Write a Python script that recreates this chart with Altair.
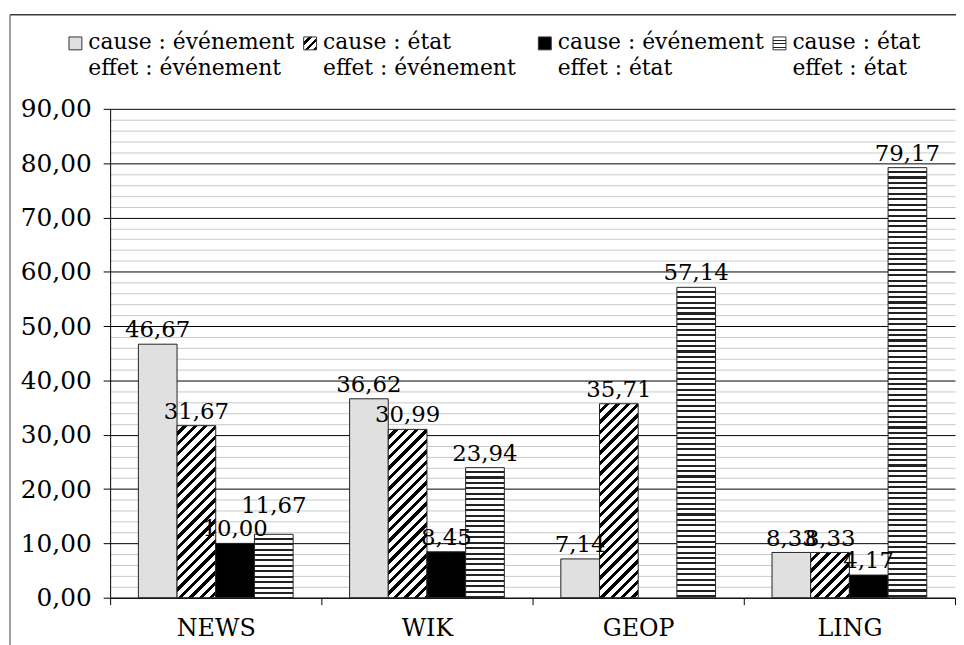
import math
import altair as alt
import pandas as pd

# ---------------- data ----------------
categories = ["NEWS", "WIK", "GEOP", "LING"]
series_labels = [
    "cause : événement\neffet : événement",
    "cause : état\neffet : événement",
    "cause : événement\neffet : état",
    "cause : état\neffet : état",
]
values_ev_ev = [46.67, 36.62, 7.14, 8.33]
values_et_ev = [31.67, 30.99, 35.71, 8.33]
values_ev_et = [10.00, 8.45, None, 4.17]
values_et_et = [11.67, 23.94, 57.14, 79.17]
series_values = [values_ev_ev, values_et_ev, values_ev_et, values_et_et]

# ---------------- layout ----------------
PLOT_W = 852
PLOT_H = 493
YMAX = 90
OFFPAD = 0.73
BAND = PLOT_W / len(categories)
BAR_W = BAND / (len(series_labels) + 2 * OFFPAD)
FONT = "DejaVu Serif"

rows = []
for ci, cat in enumerate(categories):
    for si, vals in enumerate(series_values):
        v = vals[ci]
        if v is None:
            continue
        rows.append(dict(category=cat, series=series_labels[si], si=si, ci=ci, value=v))
df = pd.DataFrame(rows)


def _stops(n, frac, light, dark):
    stops = []
    k = int(math.ceil(n))
    for i in range(k):
        a = min(i / n, 1.0)
        b = min((i + 1 - frac) / n, 1.0)
        c = min((i + 1) / n, 1.0)
        stops += [
            {"offset": round(a, 5), "color": light},
            {"offset": round(b, 5), "color": light},
            {"offset": round(b, 5), "color": dark},
            {"offset": round(c, 5), "color": dark},
        ]
    return stops


def hstripes(h, period=5.48, frac=0.38, n=None):
    if n is None:
        n = max(h / period, 1)
    return {"gradient": "linear", "x1": 0, "y1": 0, "x2": 0, "y2": 1,
            "stops": _stops(n, frac, "#ffffff", "#222222")}


def hatch(w, h, period=10.5, frac=0.42, n=None):
    L = w + h
    k = L / (w * w + h * h)
    if n is None:
        n = max(L / period, 1)
    return {"gradient": "linear", "x1": 0, "y1": 0,
            "x2": round(k * w, 5), "y2": round(k * h, 5),
            "stops": _stops(n, frac, "#ffffff", "#000000")}


DOT_FILL = "#e0e0e0"

conds = []
for r in rows:
    h = r["value"] * PLOT_H / YMAX
    if r["si"] == 1:
        g = hatch(BAR_W, h)
    elif r["si"] == 3:
        g = hstripes(h)
    else:
        continue
    conds.append({"test": f"datum.ci === {r['ci']} && datum.si === {r['si']}", "value": g})
conds.append({"test": "datum.si === 2", "value": "#000000"})
bar_fill = alt.FillValue(value=DOT_FILL, condition=conds)

x_enc = alt.X("category:N", sort=categories,
              scale=alt.Scale(domain=categories, paddingInner=0, paddingOuter=0),
              axis=alt.Axis(title=None, labelAngle=0, tickBand="extent", tickSize=7,
                            tickColor="#000", domainColor="#000", grid=False,
                            labelFont=FONT, labelFontSize=24, labelColor="#000",
                            labelPadding=12))
xoff_enc = alt.XOffset("si:O", scale=alt.Scale(domain=[0, 1, 2, 3], paddingInner=0,
                                                paddingOuter=OFFPAD))
y_enc = alt.Y("value:Q",
              scale=alt.Scale(domain=[0, YMAX], nice=False, zero=True),
              axis=alt.Axis(title=None, values=list(range(0, YMAX + 1, 2)),
                            labelExpr="datum.value % 10 === 0 ? replace(format(datum.value, '.2f'), '.', ',') : ''",
                            gridColor={"condition": {"test": "datum.value % 10 === 0", "value": "#000000"},
                                       "value": "#c8c8c8"},
                            gridWidth=1,
                            tickColor={"condition": {"test": "datum.value % 10 === 0", "value": "#000000"},
                                       "value": "transparent"},
                            tickSize=7, domainColor="#000",
                            labelFont=FONT, labelFontSize=25, labelColor="#000",
                            labelPadding=12))

base = alt.Chart(df).transform_calculate(
    label="replace(format(datum.value, '.2f'), '.', ',')"
)
bars = base.mark_bar(stroke="#222222", strokeWidth=1).encode(
    x=x_enc, xOffset=xoff_enc, y=y_enc, fill=bar_fill
)
# the label of the NEWS / "cause : état, effet : état" bar sits higher in the original
lifted = "datum.ci === 0 && datum.si === 3"
labels = base.transform_filter("!(" + lifted + ")").mark_text(
    dy=-7, baseline="alphabetic", font=FONT, fontSize=23, color="#000").encode(
    x=x_enc, xOffset=xoff_enc, y=y_enc, text="label:N"
)
labels_lifted = base.transform_filter(lifted).mark_text(
    dy=-22, baseline="alphabetic", font=FONT, fontSize=23, color="#000").encode(
    x=x_enc, xOffset=xoff_enc, y=y_enc, text="label:N"
)
main = alt.layer(bars, labels, labels_lifted)

# ---------------- legend ----------------
leg_df = pd.DataFrame({"series": series_labels, "si": list(range(len(series_labels)))})
leg_x = alt.X("si:O", scale=alt.Scale(type="point", domain=[0, 1, 2, 3],
                                      range=[-22, 688], padding=0), axis=None)
SW = 13
sw_conds = [
    {"test": "datum.si === 1", "value": hatch(SW, SW, n=3, frac=0.4)},
    {"test": "datum.si === 2", "value": "#000000"},
    {"test": "datum.si === 3", "value": hstripes(SW, n=3.5, frac=0.3)},
]
swatches = alt.Chart(leg_df).mark_square(size=SW * SW, xOffset=-13, stroke="#333",
                                          strokeWidth=1, opacity=1).encode(
    x=leg_x, y=alt.value(-66),
    fill=alt.FillValue(value=DOT_FILL, condition=sw_conds)
)
leg_text = alt.Chart(leg_df).mark_text(align="left", baseline="alphabetic", lineBreak="\n",
                                       lineHeight=26, font=FONT, fontSize=22,
                                       color="#000").encode(
    x=leg_x, y=alt.value(-60), text="series:N"
)
legend = alt.layer(swatches, leg_text)

# ---------------- frame ----------------
fd = alt.Data(values=[{"k": 0}])
frame_top = alt.Chart(fd).mark_rule(color="#3a3a3a", strokeWidth=1.5).encode(
    x=alt.value(-101), x2=alt.value(PLOT_W + 30), y=alt.value(-95)
)
frame_left = alt.Chart(fd).mark_rule(color="#808080", strokeWidth=1.5).encode(
    x=alt.value(-101), y=alt.value(-95), y2=alt.value(PLOT_H + 80)
)

chart = alt.layer(frame_top, frame_left, main, legend).resolve_scale(
    x="independent"
).properties(
    width=PLOT_W, height=PLOT_H,
    padding={"left": 103, "top": 99, "right": 1, "bottom": 45},
    autosize=alt.AutoSizeParams(type="none"),
).configure(font=FONT).configure_view(strokeWidth=0)

chart.save("out.html", embed_options={"renderer": "svg", "actions": False})
